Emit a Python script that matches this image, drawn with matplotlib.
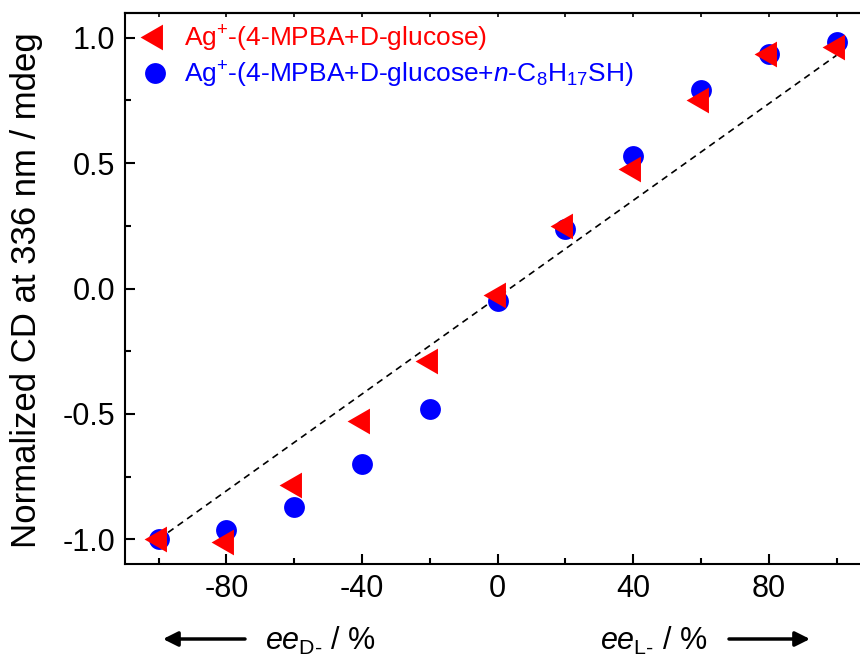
import matplotlib
matplotlib.use('Agg')
import matplotlib.pyplot as plt
from matplotlib.ticker import MultipleLocator, FormatStrFormatter

plt.rcParams['font.family'] = ['Liberation Sans', 'DejaVu Sans']
plt.rcParams['mathtext.fontset'] = 'custom'
plt.rcParams['mathtext.rm'] = 'Liberation Sans'
plt.rcParams['mathtext.it'] = 'Liberation Sans:italic'
plt.rcParams['mathtext.bf'] = 'Liberation Sans:bold'
plt.rcParams['axes.unicode_minus'] = False

# enantiomeric excess (%) and normalized CD at 336 nm
ee = [-100, -80, -60, -40, -20, 0, 20, 40, 60, 80, 100]
cd_glucose = [-1.0, -1.01, -0.783, -0.53, -0.291, -0.025, 0.249, 0.478, 0.752, 0.934, 0.965]
cd_thiol = [-1.0, -0.964, -0.873, -0.701, -0.482, -0.049, 0.239, 0.527, 0.793, 0.936, 0.985]
fit_x = [-100, 100]
fit_y = [-1.0, 0.93]

label_glucose = 'Ag$^{+}$-(4-MPBA+D-glucose)'
label_thiol = 'Ag$^{+}$-(4-MPBA+D-glucose+$\\mathit{n}$-C$_{8}$H$_{17}$SH)'

# left-pointing triangle centred on its centroid, a bit taller than wide
tri_left = [(-4 / 3, 0), (2 / 3, -1.15), (2 / 3, 1.15), (-4 / 3, 0)]

W, H = 860, 659
fig = plt.figure(figsize=(W / 100, H / 100), dpi=100)
ax = fig.add_axes([124.7 / W, (H - 564.3) / H, (870.4 - 124.7) / W, (564.3 - 12.7) / H])

ax.plot(fit_x, fit_y, color='black', lw=1.2, linestyle=(0, (4, 3)), zorder=1)
h_thiol, = ax.plot(ee, cd_thiol, 'o', color='#0000ff', ms=15, mec='none', zorder=2)
h_glu, = ax.plot(ee, cd_glucose, marker=tri_left, ls='none', color='#ff0000', ms=21.5,
                 mec='none', zorder=3)

ax.set_xlim(-110, 110)
ax.set_ylim(-1.1, 1.1)
ax.xaxis.set_major_locator(MultipleLocator(40))
ax.xaxis.set_minor_locator(MultipleLocator(20))
ax.yaxis.set_major_locator(MultipleLocator(0.5))
ax.yaxis.set_minor_locator(MultipleLocator(0.25))
ax.xaxis.set_major_formatter(FormatStrFormatter('%d'))
ax.yaxis.set_major_formatter(FormatStrFormatter('%.1f'))
ax.set_xticks([-80, -40, 0, 40, 80])

ax.tick_params(which='both', direction='in', width=1.5, labelsize=22, pad=7)
ax.tick_params(which='major', length=7.5)
ax.tick_params(which='minor', length=4)
for s in ax.spines.values():
    s.set_linewidth(1.5)

top = ax.secondary_xaxis('top')
top.set_xticks(range(-100, 101, 20))
top.tick_params(direction='in', length=3, width=1.2, labeltop=False)
top.spines['top'].set_linewidth(1.5)

leg = ax.legend([h_glu, h_thiol], [label_glucose, label_thiol], loc='upper left',
                bbox_to_anchor=(0.0086, 1.0), frameon=False, fontsize=19,
                handlelength=1.0, handletextpad=0.6, labelspacing=0.22,
                borderaxespad=0.0)
leg.get_texts()[0].set_color('#ff0000')
leg.get_texts()[1].set_color('#0000ff')

fig.text(27 / W, 1 - 290 / H, 'Normalized CD at 336 nm / mdeg', rotation=90,
         ha='center', va='center', fontsize=25)

# direction labels under the x axis
fig.text(265 / W, 9 / H, '$\\mathit{ee}_{\\mathrm{D}\\text{-}}$ / %', ha='left',
         va='baseline', fontsize=22)
fig.text(600 / W, 9 / H, '$\\mathit{ee}_{\\mathrm{L}\\text{-}}$ / %', ha='left',
         va='baseline', fontsize=22)
arrow = dict(arrowstyle='-|>', lw=2.5, color='black', mutation_scale=22,
             shrinkA=0, shrinkB=0)
ax.annotate('', xy=(163, 20), xytext=(245, 20), xycoords='figure pixels',
            textcoords='figure pixels', arrowprops=arrow)
ax.annotate('', xy=(810, 20), xytext=(729, 20), xycoords='figure pixels',
            textcoords='figure pixels', arrowprops=arrow)

fig.savefig('out.png', dpi=100)
